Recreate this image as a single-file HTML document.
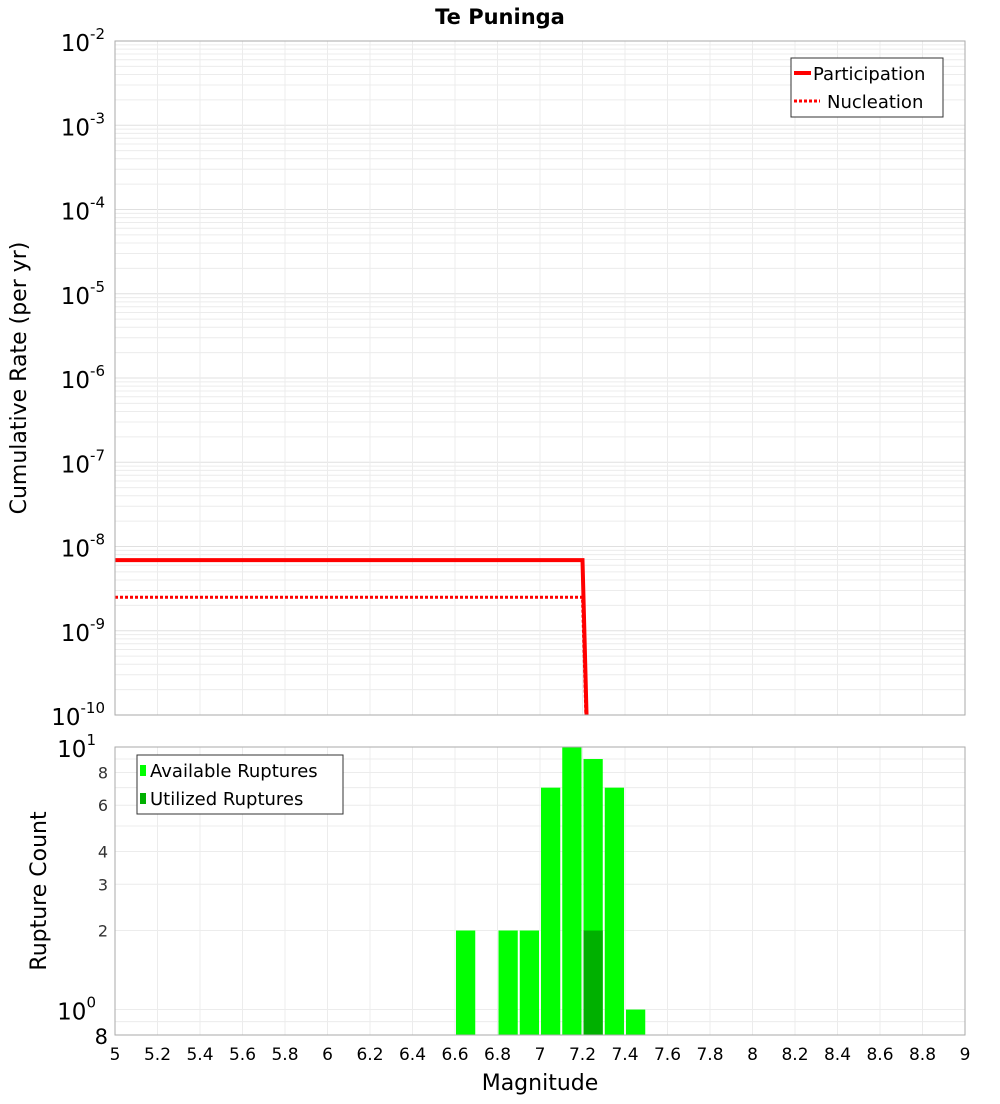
<!DOCTYPE html>
<html><head><meta charset="utf-8"><style>
body{margin:0;background:#fff;font-family:"DejaVu Sans","Liberation Sans",sans-serif}
svg text{font-family:"DejaVu Sans","Liberation Sans",sans-serif}
</style></head><body>
<svg id="c" width="1000" height="1100" xmlns="http://www.w3.org/2000/svg">
<text x="500" y="24" text-anchor="middle" font-size="21" font-weight="bold">Te Puninga</text>
<g id="topPanel"></g>
<g id="botPanel"></g>
<text transform="translate(26,378) rotate(-90)" text-anchor="middle" font-size="22">Cumulative Rate (per yr)</text>
<text transform="translate(46,891) rotate(-90)" text-anchor="middle" font-size="22">Rupture Count</text>
<text x="540" y="1090" text-anchor="middle" font-size="22">Magnitude</text>
</svg>
<script>
const partMags=[5,7.2,7.25];
const partVals=[6.9e-9,6.9e-9,1e-13];
const nuclMags=[5,7.2,7.25];
const nuclVals=[2.5e-9,2.5e-9,1e-13];
const binStarts=[6.6,6.8,6.9,7.0,7.1,7.2,7.3,7.4];
const availCounts=[2,2,2,7,10,9,7,1];
const utilCounts=[0,0,0,0,0,2,0,0];
const xTicks=[5,5.2,5.4,5.6,5.8,6,6.2,6.4,6.6,6.8,7,7.2,7.4,7.6,7.8,8,8.2,8.4,8.6,8.8,9];
const topDecades=[-2,-3,-4,-5,-6,-7,-8,-9,-10];
const botTicks=[8,6,4,3,2];

const NS="http://www.w3.org/2000/svg";
const L=115,R=965;
const X=m=>L+(m-5)/4*(R-L);
const T0=41,T1=715;
const YT=v=>T0+(-2-Math.log10(v))/8*(T1-T0);
const B0=747,B1=1035;
const YB=v=>B0+(1-Math.log10(v))/(1-Math.log10(0.8))*(B1-B0);
function el(p,t,a){const e=document.createElementNS(NS,t);for(const k in a)e.setAttribute(k,a[k]);p.appendChild(e);return e;}
const topG=document.getElementById('topPanel'),botG=document.getElementById('botPanel');
const svgEl=document.getElementById('c');

for(let d=-10;d<-2;d++)for(let k=1;k<10;k++){const y=YT(k*Math.pow(10,d));
 const g=el(topG,'line',{x1:L,x2:R,y1:y,y2:y,stroke:k==1?'#e0e0e0':'#ececec','stroke-width':1});
 
 }
for(const t of xTicks){const x=X(t);const g=el(topG,'line',{x1:x,x2:x,y1:T0,y2:T1,stroke:'#ececec'});
 
 
 const g2=el(botG,'line',{x1:x,x2:x,y1:B0,y2:B1,stroke:'#ececec'});
 
 }
for(let k=1;k<=10;k++){const y=YB(k);const g=el(botG,'line',{x1:L,x2:R,y1:y,y2:y,stroke:'#ececec'});
 
 }
{const y=YB(0.9);const g=el(botG,'line',{x1:L,x2:R,y1:y,y2:y,stroke:'#ececec'});
 
 }

const defs=el(svgEl,'defs',{});const cp=el(defs,'clipPath',{id:'tc'});el(cp,'rect',{x:L,y:T0,width:R-L,height:T1-T0});
function drawLine(mags,vals,dash,name){const pts=mags.map((m,i)=>X(m)+','+YT(vals[i])).join(' ');
 const p=el(topG,'polyline',{points:pts,fill:'none',stroke:'#ff0000','stroke-width':dash?3:4,'clip-path':'url(#tc)'});
 if(dash)p.setAttribute('stroke-dasharray','3,2');
 
 }
drawLine(partMags,partVals,false,'participation-line');
drawLine(nuclMags,nuclVals,true,'nucleation-line');
el(topG,'rect',{x:L,y:T0,width:R-L,height:T1-T0,fill:'none',stroke:'#aaa'});

for(const d of topDecades){const y=YT(Math.pow(10,d));
 const t=el(topG,'text',{x:105,y:y+10,'text-anchor':'end','font-size':23});
 
 
 t.textContent='10';const s=el(t,'tspan',{dy:-12,'font-size':15});s.textContent=String(d);}

binStarts.forEach((b,i)=>{const x0=X(b)+1,w=X(b+0.1)-X(b)-2;
 const r=el(botG,'rect',{x:x0,y:YB(availCounts[i]),width:w,height:B1-YB(availCounts[i]),fill:'#00ff00'});
 
 
 if(utilCounts[i]>0){const u=el(botG,'rect',{x:x0,y:YB(utilCounts[i]),width:w,height:B1-YB(utilCounts[i]),fill:'#00b000'});
 
 }});
el(botG,'rect',{x:L,y:B0,width:R-L,height:B1-B0,fill:'none',stroke:'#aaa'});

for(const v of botTicks){const t=el(botG,'text',{x:108,y:YB(v)+6,'text-anchor':'end','font-size':16,fill:'#333'});
 
 
 t.textContent=String(v);}
{const t=el(botG,'text',{x:108,y:1044,'text-anchor':'end','font-size':21});
 
 
 t.textContent='8';}
[[1,1],[0,0]].forEach(([v,e])=>{const y=YB(Math.pow(10,v));const t=el(botG,'text',{x:96,y:y+10,'text-anchor':'end','font-size':23});
 
 
 t.textContent='10';
 const s=el(t,'tspan',{dy:-12,'font-size':15});s.textContent=String(e);});

for(const tk of xTicks){const t=el(botG,'text',{x:X(tk),y:1060,'text-anchor':'middle','font-size':17});
 
 
 t.textContent=String(tk);}

const lg=el(topG,'g',{});


el(lg,'rect',{x:791,y:58,width:152,height:59,fill:'#fff',stroke:'#333'});
el(lg,'line',{x1:794,x2:811,y1:73,y2:73,stroke:'#f00','stroke-width':4});
el(lg,'line',{x1:794,x2:820,y1:101,y2:101,stroke:'#f00','stroke-width':3,'stroke-dasharray':'3,2'});
let tx=el(lg,'text',{x:813,y:80,'font-size':18});tx.textContent='Participation';


tx=el(lg,'text',{x:827,y:108,'font-size':18});tx.textContent='Nucleation';



const lb=el(botG,'g',{});


el(lb,'rect',{x:137,y:755,width:206,height:59,fill:'#fff',stroke:'#333'});
el(lb,'rect',{x:140,y:765,width:6,height:11,fill:'#00ff00'});
el(lb,'rect',{x:140,y:793,width:6,height:11,fill:'#00b000'});
tx=el(lb,'text',{x:150,y:777,'font-size':18});tx.textContent='Available Ruptures';


tx=el(lb,'text',{x:150,y:805,'font-size':18});tx.textContent='Utilized Ruptures';


</script>
</body></html>
